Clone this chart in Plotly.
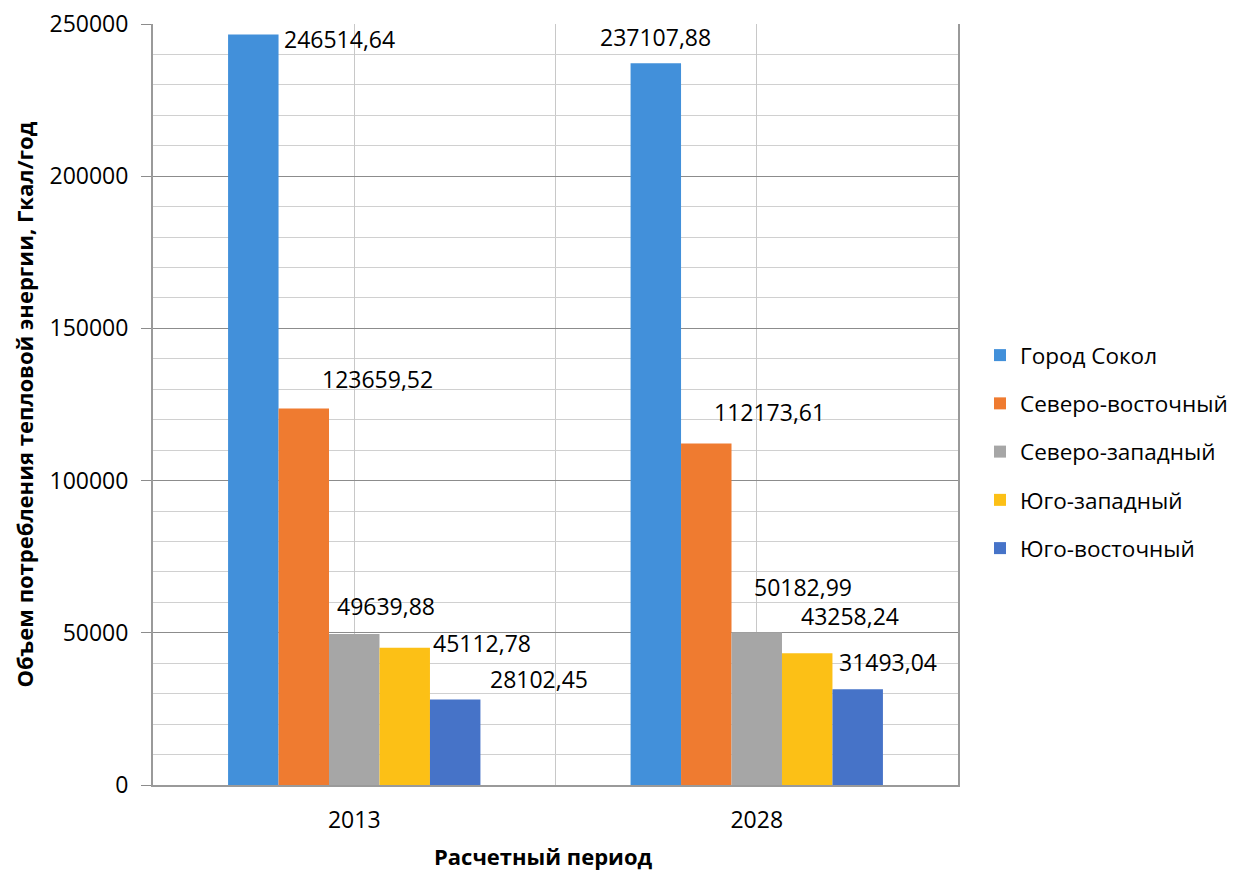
import plotly.graph_objects as go

periods = ["2013", "2028"]
series_names = ["Город Сокол", "Северо-восточный", "Северо-западный", "Юго-западный", "Юго-восточный"]
values_2013 = [246514.64, 123659.52, 49639.88, 45112.78, 28102.45]
values_2028 = [237107.88, 112173.61, 50182.99, 43258.24, 31493.04]
label_text_2013 = ["246514,64", "123659,52", "49639,88", "45112,78", "28102,45"]
label_text_2028 = ["237107,88", "112173,61", "50182,99", "43258,24", "31493,04"]

colors = ["#4290da", "#ef7b30", "#a6a6a6", "#fcc016", "#4673c8"]
# label pixel offsets (dx, dy) relative to bar top centre, as placed in the original
label_shift_2013 = [(86, -4), (74, 30), (32, 28), (77, 5), (84, 20)]
label_shift_2028 = [(0, 26), (63, 32), (46, 45), (43, 37), (30, 27)]

FONT = "Open Sans"
FS = 23
bargap = 0.373
n = len(series_names)
w = (1 - bargap) / n

fig = go.Figure()
xpos = list(range(len(periods)))
for i, name in enumerate(series_names):
    fig.add_trace(go.Bar(
        x=xpos, y=[values_2013[i], values_2028[i]], name=name,
        legendgroup=name,
        marker=dict(color=colors[i], line=dict(width=0)),
    ))

annotations = []
for ci, (vals, texts, shifts) in enumerate([(values_2013, label_text_2013, label_shift_2013),
                                             (values_2028, label_text_2028, label_shift_2028)]):
    for i in range(n):
        annotations.append(dict(
            x=ci + (i - (n - 1) / 2) * w, y=vals[i], xref="x", yref="y",
            text=texts[i], showarrow=False, xshift=shifts[i][0], yshift=shifts[i][1],
            font=dict(family=FONT, size=FS, color="#000000"),
        ))

# axis titles
annotations.append(dict(
    x=0.4845, y=-0.0935, xref="paper", yref="paper", showarrow=False,
    text="<b>Расчетный период</b>", font=dict(family=FONT, size=22, color="#000000"),
    xanchor="center", yanchor="middle",
))
annotations.append(dict(
    x=-0.1603, y=0.5, xref="paper", yref="paper", showarrow=False, textangle=-90,
    text="<b>Объем потребления тепловой энергии, Гкал/год</b>",
    font=dict(family=FONT, size=22, color="#000000"),
    xanchor="center", yanchor="middle",
))

fig.update_layout(
    width=1236, height=872,
    margin=dict(l=153, r=278, t=24, b=87, autoexpand=False),
    paper_bgcolor="white", plot_bgcolor="white",
    barmode="group", bargap=bargap, bargroupgap=0,
    font=dict(family=FONT, size=FS, color="#000000"),
    showlegend=True,
    legend=dict(x=1.0273, xanchor="left", y=0.4376, yanchor="middle",
                font=dict(family=FONT, size=22.5), tracegroupgap=16,
                bgcolor="rgba(0,0,0,0)"),
    annotations=annotations,
)
fig.update_xaxes(
    range=[-0.5, 1.5], tickvals=xpos, ticktext=periods,
    showgrid=True, gridcolor="#c8c8c8", gridwidth=1,
    minor=dict(tick0=0.5, dtick=1, showgrid=True, gridcolor="#c8c8c8", gridwidth=1),
    ticks="", ticklabelstandoff=13,
    showline=True, linecolor="#9a9a9a", linewidth=2,
    zeroline=False, automargin=False,
    tickfont=dict(family=FONT, size=FS),
)
fig.update_yaxes(
    range=[0, 250000], dtick=50000, tick0=0, tickformat="d",
    showgrid=True, gridcolor="#8c8c8c", gridwidth=1,
    minor=dict(dtick=10000, showgrid=True, gridcolor="#d0d0d0", gridwidth=1),
    ticks="outside", ticklen=10, tickcolor="#8c8c8c", tickwidth=1,
    ticklabelstandoff=8,
    showline=True, linecolor="#9a9a9a", linewidth=2, mirror=True,
    zeroline=False, automargin=False,
    tickfont=dict(family=FONT, size=FS),
)

fig.write_html("out.html")
